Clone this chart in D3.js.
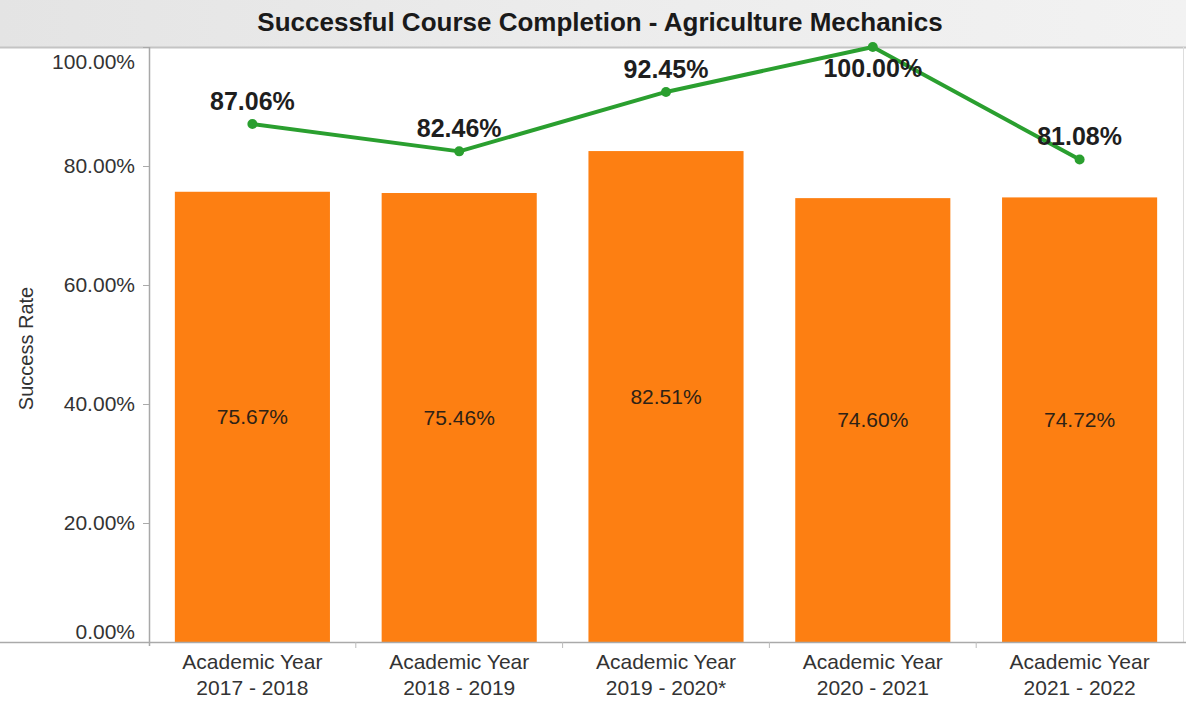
<!DOCTYPE html>
<html>
<head>
<meta charset="utf-8">
<script src="https://cdn.jsdelivr.net/npm/d3@7/dist/d3.min.js"></script>
<style>
  html, body { margin: 0; padding: 0; background: #ffffff; }
  svg { display: block; font-family: "Liberation Sans", Arial, sans-serif; }
</style>
</head>
<body>
<svg id="chart" width="1186" height="703"></svg>
<script>
// Course completion data per academic year
const years = [
  ["Academic Year", "2017 - 2018"],
  ["Academic Year", "2018 - 2019"],
  ["Academic Year", "2019 - 2020*"],
  ["Academic Year", "2020 - 2021"],
  ["Academic Year", "2021 - 2022"]
];
const successRate = [0.7567, 0.7546, 0.8251, 0.7460, 0.7472];   // bars
const completionRate = [0.8706, 0.8246, 0.9245, 1.0000, 0.8108]; // green line
const yTicks = [0, 0.2, 0.4, 0.6, 0.8, 1.0];

const W = 1186, H = 703;
const plot = { left: 149, right: 1183, top: 47, bottom: 642 };
const titleBand = 47;

const svg = d3.select("#chart");
const fmt = d3.format(".2%");

// Title band
const grad = svg.append("defs").append("linearGradient")
  .attr("id", "titleGrad").attr("x1", 0).attr("x2", 1).attr("y1", 0).attr("y2", 0);
grad.append("stop").attr("offset", "0%").attr("stop-color", "#e4e4e4");
grad.append("stop").attr("offset", "50%").attr("stop-color", "#ececec");
grad.append("stop").attr("offset", "100%").attr("stop-color", "#f2f2f2");
svg.append("rect").attr("x", 0).attr("y", 0).attr("width", W).attr("height", titleBand)
  .attr("fill", "url(#titleGrad)");
svg.append("line").attr("x1", 0).attr("x2", W).attr("y1", titleBand + 0.5).attr("y2", titleBand + 0.5)
  .attr("stroke", "#c4c4c4").attr("stroke-width", 2);
svg.append("text")
  .attr("x", 600).attr("y", 22).attr("dy", "0.35em")
  .attr("text-anchor", "middle")
  .attr("font-size", 26).attr("font-weight", "bold").attr("fill", "#1a1a1a")
  .text("Successful Course Completion - Agriculture Mechanics");

// Scales
const labels = years.map(d => d.join(" "));
const x = d3.scaleBand().domain(labels).range([plot.left, plot.right])
  .paddingInner(0.25).paddingOuter(0.125);
const y = d3.scaleLinear().domain([0, 1]).range([plot.bottom, plot.top]);

// Bars
svg.append("g").selectAll("rect").data(successRate).join("rect")
  .attr("x", (d, i) => x(labels[i]))
  .attr("y", d => y(d))
  .attr("width", x.bandwidth())
  .attr("height", d => y(0) - y(d))
  .attr("fill", "#fd7f12");

// Bar value labels, centred vertically in each bar
svg.append("g").selectAll("text").data(successRate).join("text")
  .attr("x", (d, i) => x(labels[i]) + x.bandwidth() / 2)
  .attr("y", d => y(d / 2))
  .attr("dy", "0.35em")
  .attr("text-anchor", "middle")
  .attr("font-size", 21).attr("fill", "#2e2216")
  .text(d => fmt(d));

// Y axis
const yAxis = d3.axisLeft(y).tickValues(yTicks).tickFormat(fmt).tickSize(6).tickPadding(8);
const gy = svg.append("g").attr("transform", `translate(${plot.left},0)`).call(yAxis);
gy.select(".domain").remove();
gy.selectAll(".tick line").attr("stroke", "#aaaaaa");
gy.selectAll(".tick text")
  .attr("font-size", 21).attr("fill", "#333333")
  .attr("font-family", "'Liberation Sans', Arial, sans-serif")
  .attr("dy", d => d === 1 ? "1.0em" : (d === 0 ? "-0.15em" : "0.32em"));
svg.append("line").attr("x1", plot.left + 0.5).attr("x2", plot.left + 0.5)
  .attr("y1", plot.top).attr("y2", plot.bottom + 4)
  .attr("stroke", "#a8a8a8").attr("stroke-width", 1.5);
svg.append("line").attr("x1", plot.right + 0.5).attr("x2", plot.right + 0.5)
  .attr("y1", plot.top).attr("y2", plot.bottom)
  .attr("stroke", "#dddddd").attr("stroke-width", 1);

// Y axis title
svg.append("text")
  .attr("transform", `translate(26,${(plot.top + plot.bottom) / 2 + 4}) rotate(-90)`)
  .attr("text-anchor", "middle").attr("dy", "0.35em")
  .attr("font-size", 20).attr("fill", "#333333")
  .text("Success Rate");

// X axis
const xAxis = d3.axisBottom(x).tickSize(0).tickPadding(0).tickFormat("");
const gx = svg.append("g").attr("transform", `translate(0,${plot.bottom})`).call(xAxis);
gx.select(".domain").remove();
svg.append("line").attr("x1", 0).attr("x2", W).attr("y1", plot.bottom + 0.5).attr("y2", plot.bottom + 0.5)
  .attr("stroke", "#aaaaaa").attr("stroke-width", 1.5);
// divider ticks between categories
svg.append("g").selectAll("line").data(labels.slice(1)).join("line")
  .attr("x1", d => x(d) - x.step() * x.paddingInner() / 2)
  .attr("x2", d => x(d) - x.step() * x.paddingInner() / 2)
  .attr("y1", plot.bottom).attr("y2", plot.bottom + 6)
  .attr("stroke", "#bbbbbb");
// two-line category labels
const xl = svg.append("g").selectAll("text").data(years).join("text")
  .attr("x", (d, i) => x(labels[i]) + x.bandwidth() / 2)
  .attr("y", 662)
  .attr("text-anchor", "middle")
  .attr("font-size", 21).attr("fill", "#333333");
xl.selectAll("tspan").data(d => d).join("tspan")
  .attr("x", function () { return d3.select(this.parentNode).attr("x"); })
  .attr("dy", (d, j) => j === 0 ? "0.35em" : "1.24em")
  .text(d => d);

// Completion line
const cx = i => x(labels[i]) + x.bandwidth() / 2;
const line = d3.line().x((d, i) => cx(i)).y(d => y(d));
svg.append("path").datum(completionRate)
  .attr("d", line)
  .attr("fill", "none").attr("stroke", "#2a9f2f").attr("stroke-width", 4)
  .attr("stroke-linejoin", "round");
svg.append("g").selectAll("circle").data(completionRate).join("circle")
  .attr("cx", (d, i) => cx(i)).attr("cy", d => y(d)).attr("r", 5)
  .attr("fill", "#2a9f2f");

// Line value labels: above each point, below when the point sits on the top edge
svg.append("g").selectAll("text").data(completionRate).join("text")
  .attr("x", (d, i) => cx(i))
  .attr("y", d => y(d) - 22 < plot.top + 12 ? y(d) + 21 : y(d) - 23)
  .attr("dy", "0.35em")
  .attr("text-anchor", "middle")
  .attr("font-size", 25).attr("font-weight", "bold").attr("fill", "#1e1e1e")
  .text(d => fmt(d));
</script>
</body>
</html>
